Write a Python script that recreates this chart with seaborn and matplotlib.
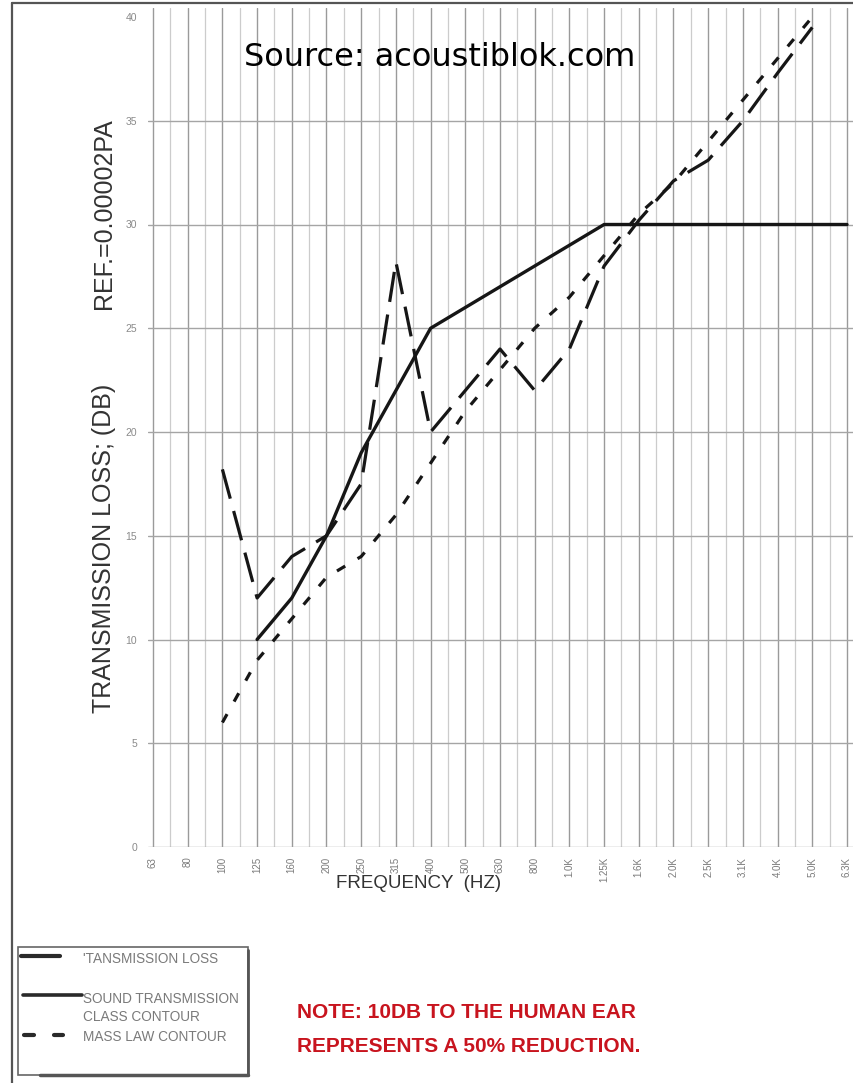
import numpy as np
import pandas as pd
import matplotlib
matplotlib.use("Agg")
import matplotlib.pyplot as plt
from matplotlib import font_manager
from matplotlib.lines import Line2D
from matplotlib.patches import Rectangle
import seaborn as sns

# One-third octave band labels along the frequency axis
freq_labels = ["63", "80", "100", "125", "160", "200", "250", "315", "400", "500",
               "630", "800", "1.0K", "1.25K", "1.6K", "2.0K", "2.5K", "3.1K",
               "4.0K", "5.0K", "6.3K"]

# Measured transmission loss (dB)
tl_bands = ["100", "125", "160", "200", "250", "315", "400", "500", "630", "800",
            "1.0K", "1.25K", "1.6K", "2.0K", "2.5K", "3.1K", "4.0K", "5.0K"]
tl_values = [18.2, 12.0, 14.0, 15.0, 17.5, 28.2, 20.0, 22.0, 24.0, 22.0,
             24.0, 28.0, 30.2, 32.1, 33.1, 35.0, 37.3, 39.5]

# Sound transmission class contour (dB)
stc_bands = ["125", "160", "200", "250", "315", "400", "500", "630", "800", "1.0K",
             "1.25K", "1.6K", "2.0K", "2.5K", "3.1K", "4.0K", "5.0K", "6.3K"]
stc_values = [10, 12, 15, 19, 22, 25, 26, 27, 28, 29,
              30, 30, 30, 30, 30, 30, 30, 30]

# Mass law contour (dB)
mass_bands = tl_bands
mass_values = [6.0, 9.0, 11.0, 13.0, 14.0, 16.0, 18.5, 21.0, 23.0, 25.0,
               26.5, 28.5, 30.5, 32.0, 34.0, 36.0, 38.0, 40.0]

y_ticks = [0, 5, 10, 15, 20, 25, 30, 35, 40]

W, H = 854, 1083
sns.set_style("white")
plt.rcParams["font.family"] = ["Liberation Sans", "DejaVu Sans"]

installed = {f.name for f in font_manager.fontManager.ttflist}
note_family = "Liberation Sans Narrow" if "Liberation Sans Narrow" in installed else "Liberation Sans"

fig = plt.figure(figsize=(W / 100, H / 100), dpi=100)
fig.patch.set_facecolor("white")


def fx(x):
    return x / W


def fy(y):
    return 1 - y / H


# plot area in pixel terms: left 148, top 8, right 854, bottom 847
ax = fig.add_axes([fx(148), fy(847), fx(854) - fx(148), fy(8) - fy(847)])
ax.set_facecolor("white")

step = (847 - 153) / 20.0
ax.set_xlim(-5 / step, (854 - 153) / step)
ax.set_ylim(0, 40 + 9 / 20.75)

# chart-paper grid
for i in range(len(freq_labels)):
    ax.axvline(i, color="#9a9a9a", lw=1.0, zorder=0)
    ax.axvline(i + 0.5, color="#cccccc", lw=0.9, zorder=0)
for v in y_ticks[:-1]:
    ax.axhline(v, color="#a5a5a5", lw=1.0, zorder=0)

ink = "#161616"
pos = {lab: i for i, lab in enumerate(freq_labels)}

tl_df = pd.DataFrame({"pos": [pos[b] for b in tl_bands], "db": tl_values})
stc_df = pd.DataFrame({"pos": [pos[b] for b in stc_bands], "db": stc_values})
mass_df = pd.DataFrame({"pos": [pos[b] for b in mass_bands], "db": mass_values})

sns.lineplot(data=mass_df, x="pos", y="db", ax=ax, color=ink, lw=2.3,
             linestyle=(0, (3.0, 4.5)), sort=False, zorder=3)
sns.lineplot(data=tl_df, x="pos", y="db", ax=ax, color=ink, lw=2.3,
             linestyle=(0, (9.5, 4.0)), sort=False, zorder=3)
sns.lineplot(data=stc_df, x="pos", y="db", ax=ax, color=ink, lw=2.4,
             linestyle="-", sort=False, zorder=4)

for s in ax.spines.values():
    s.set_visible(False)

ax.set_xticks(range(len(freq_labels)))
ax.set_xticklabels(freq_labels, rotation=90, fontsize=7, color="#7a7a7a")
ax.set_yticks(y_ticks)
ax.set_yticklabels([str(v) for v in y_ticks], fontsize=7.5, color="#8a8a8a")
ax.tick_params(axis="x", length=0, pad=7)
ax.tick_params(axis="y", length=5, width=0.8, color="#aaaaaa", pad=3)
ax.set_xlabel("")
ax.set_ylabel("")

# axis titles
fig.text(fx(419), fy(883), "FREQUENCY  (HZ)", fontsize=13.5, color="#333333",
         ha="center", va="center")
fig.text(fx(104), fy(548), "TRANSMISSION LOSS; (DB)",
         fontsize=18, color="#333333", rotation=90, ha="center", va="center")
fig.text(fx(104), fy(214), "REF.=0.00002PA",
         fontsize=18, color="#333333", rotation=90, ha="center", va="center")

fig.text(fx(440), fy(57), "Source: acoustiblok.com", fontsize=23,
         family="DejaVu Sans", color="black", ha="center", va="center")

# page frame
fig.add_artist(Line2D([fx(12), fx(12)], [0, fy(3)], transform=fig.transFigure,
                      color="#555555", lw=1.6))
fig.add_artist(Line2D([fx(12), 1], [fy(3), fy(3)], transform=fig.transFigure,
                      color="#555555", lw=1.6))

# key box
fig.add_artist(Rectangle((fx(18), fy(1075)), fx(248) - fx(18), fy(947) - fy(1075),
                         transform=fig.transFigure, fill=False,
                         edgecolor="#666666", lw=1.2))
fig.add_artist(Line2D([fx(40), fx(248)], [fy(1075), fy(1075)], transform=fig.transFigure,
                      color="#555555", lw=2.5))
fig.add_artist(Line2D([fx(248), fx(248)], [fy(1075), fy(950)], transform=fig.transFigure,
                      color="#555555", lw=2.0))

key_color = "#7a7a7a"
key_size = 9.8
fig.add_artist(Line2D([fx(21), fx(60)], [fy(956), fy(956)], transform=fig.transFigure,
                      color="#2a2a2a", lw=3.0))
fig.text(fx(83), fy(959), "'TANSMISSION LOSS", fontsize=key_size, color=key_color,
         ha="left", va="center")
fig.add_artist(Line2D([fx(23), fx(82)], [fy(995), fy(995)], transform=fig.transFigure,
                      color="#2a2a2a", lw=2.6))
fig.text(fx(83), fy(999), "SOUND TRANSMISSION", fontsize=key_size, color=key_color,
         ha="left", va="center")
fig.text(fx(83), fy(1017), "CLASS CONTOUR", fontsize=key_size, color=key_color,
         ha="left", va="center")
fig.add_artist(Line2D([fx(24), fx(34)], [fy(1035), fy(1035)], transform=fig.transFigure,
                      color="#2a2a2a", lw=3.0))
fig.add_artist(Line2D([fx(54), fx(63)], [fy(1035), fy(1035)], transform=fig.transFigure,
                      color="#2a2a2a", lw=3.0))
fig.text(fx(83), fy(1037), "MASS LAW CONTOUR", fontsize=key_size, color=key_color,
         ha="left", va="center")

# note
fig.text(fx(297), fy(1012), "NOTE: 10DB TO THE HUMAN EAR", fontsize=15,
         family=note_family, weight="bold", color="#c8141e", ha="left", va="center")
fig.text(fx(297), fy(1047), "REPRESENTS A 50% REDUCTION.", fontsize=15,
         family=note_family, weight="bold", color="#c8141e", ha="left", va="center")

fig.savefig("out.png", dpi=100, facecolor="white")
